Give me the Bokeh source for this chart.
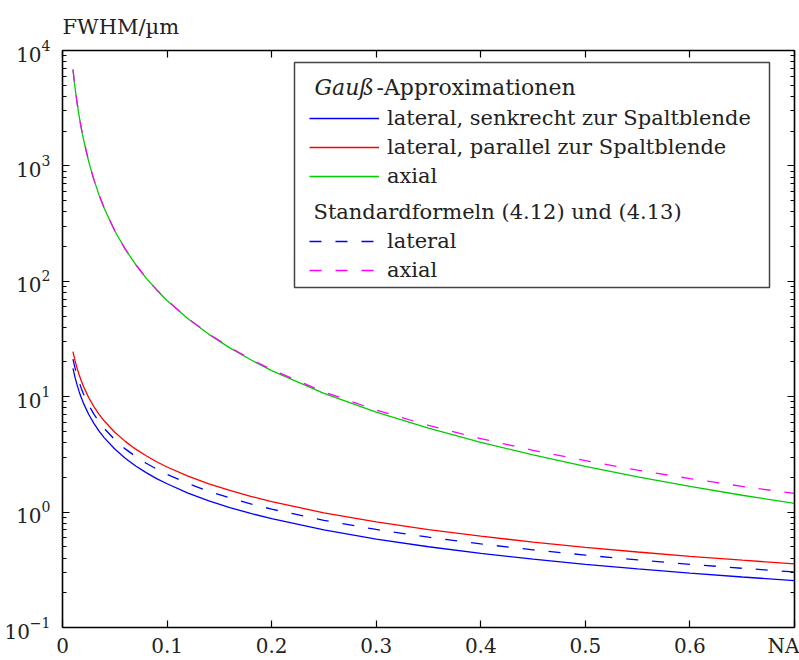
from bokeh.plotting import figure
from bokeh.models import (FixedTicker, LinearAxis, LogAxis, Legend, LegendItem,
                          Label, BoxAnnotation, Range1d)
from bokeh.embed import file_html
from bokeh.resources import INLINE

# numerical aperture
na = [0.01, 0.012, 0.014, 0.016, 0.018, 0.02, 0.025, 0.03, 0.035, 0.04, 0.05,
      0.06, 0.07, 0.08, 0.09, 0.1, 0.12, 0.14, 0.16, 0.18, 0.2, 0.25, 0.3,
      0.35, 0.4, 0.45, 0.5, 0.55, 0.6, 0.65, 0.7]

# Gauss approximations, FWHM in µm
gauss_lat_perp = [17.6, 14.7, 12.6, 11.0, 9.78, 8.80, 7.04, 5.87, 5.03, 4.40, 3.52,
                  2.93, 2.51, 2.20, 1.95, 1.76, 1.46, 1.25, 1.095, 0.973, 0.876, 0.700, 0.584,
                  0.501, 0.439, 0.391, 0.353, 0.322, 0.296, 0.274, 0.255]
gauss_lat_par = [24.6, 20.5, 17.6, 15.4, 13.7, 12.3, 9.84, 8.20, 7.03, 6.15, 4.92,
                 4.10, 3.51, 3.08, 2.73, 2.46, 2.05, 1.76, 1.54, 1.37, 1.23, 0.986, 0.822,
                 0.705, 0.618, 0.550, 0.495, 0.451, 0.414, 0.383, 0.356]
gauss_axial = [6850, 4756, 3494, 2675, 2113, 1712, 1095, 760, 558, 427, 273,
               189.8, 139.4, 106.6, 84.2, 68.2, 47.3, 34.7, 26.5, 20.9, 16.85, 10.69, 7.34,
               5.34, 4.025, 3.126, 2.49, 2.02, 1.67, 1.40, 1.19]

# standard formulas (4.12) and (4.13)
std_lateral = [21.2, 17.7, 15.1, 13.3, 11.8, 10.6, 8.48, 7.07, 6.06, 5.30, 4.24,
               3.53, 3.03, 2.65, 2.36, 2.12, 1.77, 1.51, 1.33, 1.18, 1.06, 0.848, 0.707,
               0.606, 0.530, 0.471, 0.424, 0.385, 0.353, 0.326, 0.303]
std_axial = [6850, 4757, 3495, 2676, 2114, 1713, 1096, 761, 559, 428, 274,
             190.3, 139.8, 107.0, 84.6, 68.5, 47.6, 35.0, 26.8, 21.2, 17.15, 11.0, 7.66,
             5.64, 4.33, 3.43, 2.79, 2.31, 1.95, 1.67, 1.45]

x_ticks = [0, 0.1, 0.2, 0.3, 0.4, 0.5, 0.6, 0.7]
x_tick_labels = ["0", "0.1", "0.2", "0.3", "0.4", "0.5", "0.6", "NA"]
y_ticks = [0.1, 1, 10, 100, 1000, 10000]

labels_gauss = ["lateral, senkrecht zur Spaltblende",
                "lateral, parallel zur Spaltblende",
                "axial"]
labels_std = ["lateral", "axial"]

FONT = "DejaVu Serif"
FS = "20px"
INK = "#222222"

p = figure(width=799, height=660, y_axis_type="log",
           x_range=Range1d(0, 0.7), y_range=Range1d(0.1, 1e4),
           output_backend="svg", toolbar_location=None,
           min_border_left=62, min_border_right=5,
           min_border_top=49, min_border_bottom=33)
p.grid.visible = False
p.outline_line_color = None
p.background_fill_color = "white"
p.border_fill_color = "white"

# quantity and unit above the value axis
p.title.text = "FWHM/µm"
p.title.align = "left"
p.title.text_font = FONT
p.title.text_font_size = "21px"
p.title.text_font_style = "normal"
p.title.text_color = INK
p.title.standoff = 24

y_minor = [m * 10.0 ** e for e in range(-1, 4) for m in range(2, 10)]


def style_axis(ax, labels=True):
    ax.axis_line_color = "black"
    ax.axis_line_width = 1.6
    ax.major_tick_in = 7
    ax.major_tick_out = 0
    ax.minor_tick_in = 4
    ax.minor_tick_out = 0
    ax.major_tick_line_color = "black"
    ax.minor_tick_line_color = "black"
    ax.major_tick_line_width = 1.2
    ax.minor_tick_line_width = 1
    ax.major_label_text_font = FONT
    ax.major_label_text_color = INK
    if labels:
        ax.major_label_text_font_size = FS
    else:
        # mirror axes carry ticks only
        ax.major_label_text_font_size = "1px"
        ax.major_label_text_alpha = 0
        ax.major_label_standoff = 0


xa = p.xaxis[0]
xa.ticker = FixedTicker(ticks=x_ticks, minor_ticks=[])
xa.major_label_overrides = {t: s for t, s in zip(x_ticks, x_tick_labels)}
style_axis(xa)
xa.major_label_standoff = 6

ya = p.yaxis[0]
ya.ticker = FixedTicker(ticks=y_ticks, minor_ticks=y_minor)
style_axis(ya)
ya.major_label_standoff = 12

top = LinearAxis(ticker=FixedTicker(ticks=x_ticks, minor_ticks=[]))
style_axis(top, labels=False)
p.add_layout(top, "above")
right = LogAxis(ticker=FixedTicker(ticks=y_ticks, minor_ticks=y_minor))
style_axis(right, labels=False)
p.add_layout(right, "right")


def text_label(x, y, text, size="21px", **kw):
    return Label(x=x, y=y, x_units="screen", y_units="screen", text=text,
                 text_font=FONT, text_font_size=size, text_color=INK,
                 text_baseline="alphabetic", **kw)


# legend frame
box = BoxAnnotation(left=232, right=707, bottom=340, top=565,
                    left_units="screen", right_units="screen",
                    bottom_units="screen", top_units="screen",
                    fill_color="white", fill_alpha=1.0,
                    line_color="#444444", line_alpha=1.0, line_width=1.5,
                    level="underlay")
p.add_layout(box)

LW = 1.3
r_perp = p.line(na, gauss_lat_perp, line_color="#0000ff", line_width=LW)
r_par = p.line(na, gauss_lat_par, line_color="#ff0000", line_width=LW)
r_ax = p.line(na, gauss_axial, line_color="#00cc00", line_width=LW)
r_slat = p.line(na, std_lateral, line_color="#0000ff", line_width=LW, line_dash="12 14")
r_sax = p.line(na, std_axial, line_color="#ff00ff", line_width=LW, line_dash="12 14")


def make_legend(items, loc):
    return Legend(items=items, location=loc, orientation="vertical",
                  glyph_width=70, glyph_height=26, label_height=26,
                  label_standoff=8, spacing=3, padding=0, margin=0,
                  border_line_alpha=0, background_fill_alpha=0,
                  label_text_font=FONT, label_text_font_size="21px",
                  label_text_color=INK)


lg1 = make_legend([LegendItem(label=labels_gauss[0], renderers=[r_perp]),
                   LegendItem(label=labels_gauss[1], renderers=[r_par]),
                   LegendItem(label=labels_gauss[2], renderers=[r_ax])], (247, 438))
lg2 = make_legend([LegendItem(label=labels_std[0], renderers=[r_slat]),
                   LegendItem(label=labels_std[1], renderers=[r_sax])], (247, 344))
p.add_layout(lg1)
p.add_layout(lg2)

# group headings inside the legend frame
p.add_layout(text_label(252, 540, "Gauß", size="22px", text_font_style="italic"))
p.add_layout(text_label(314, 540, "-Approximationen", size="22px"))
p.add_layout(text_label(251, 416, "Standardformeln (4.12) und (4.13)"))

open("out.html", "w").write(file_html(p, INLINE))
